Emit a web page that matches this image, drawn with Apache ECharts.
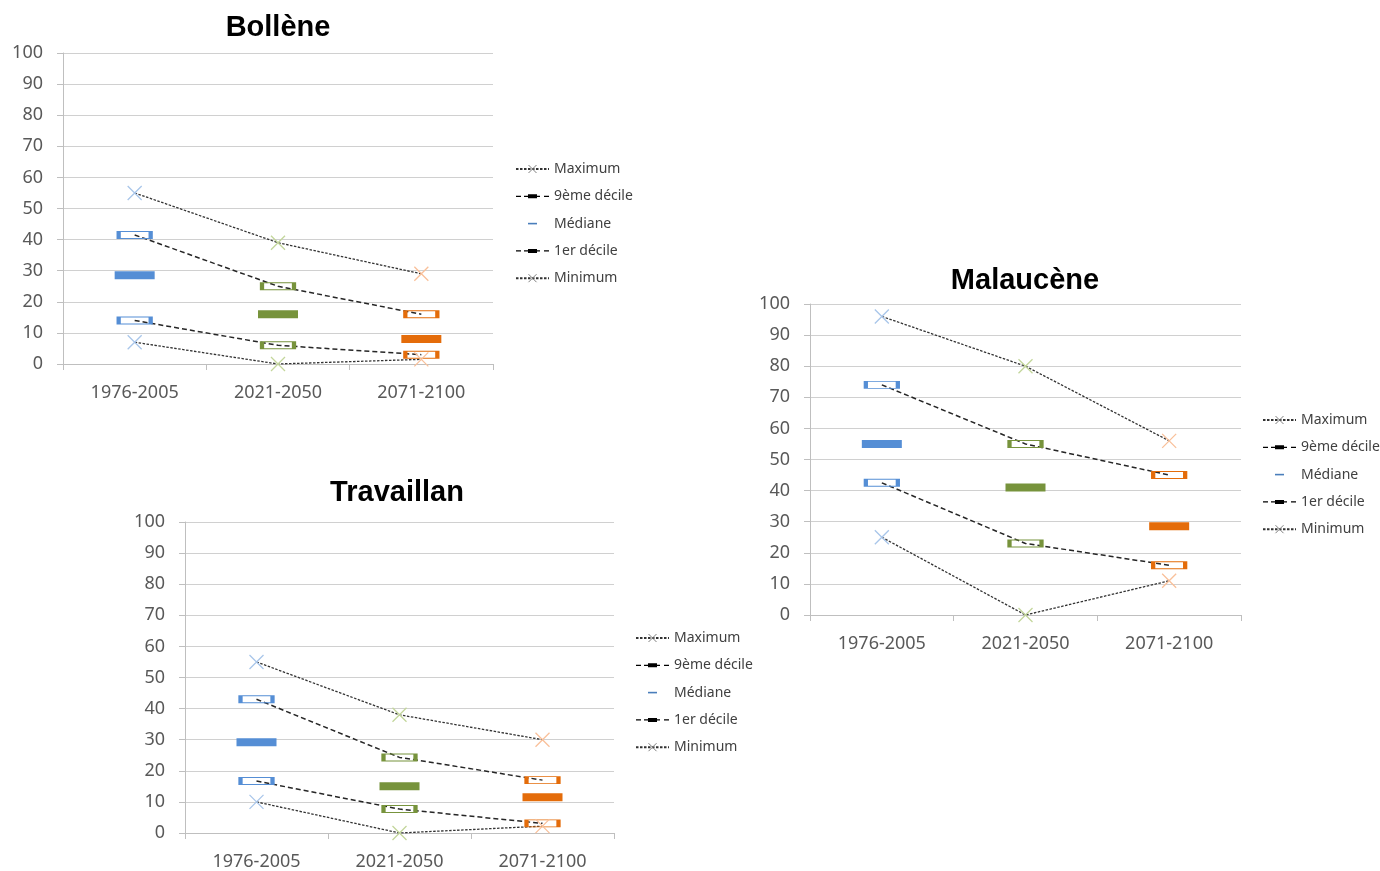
<!DOCTYPE html>
<html>
<head>
<meta charset="utf-8">
<script src="https://cdn.jsdelivr.net/npm/echarts@6/dist/echarts.min.js"></script>
<style>html,body{margin:0;padding:0;background:#fff}#c{width:1380px;height:871px}</style>
</head>
<body>
<div id="c"></div>
<script>
// ---------- data ----------
const categories = ['1976-2005', '2021-2050', '2071-2100'];
const seriesNames = ['Maximum', '9ème décile', 'Médiane', '1er décile', 'Minimum'];
const stations = ['Bollène', 'Malaucène', 'Travaillan'];

const bolleneMax = [55, 39, 29];
const bollene9 = [41.5, 25, 16];
const bolleneMed = [28.5, 16, 8];
const bollene1 = [14, 6, 3];
const bolleneMin = [7, 0, 1.5];

const malauceneMax = [96, 80, 56];
const malaucene9 = [74, 55, 45];
const malauceneMed = [55, 41, 28.5];
const malaucene1 = [42.5, 23, 16];
const malauceneMin = [25, 0, 11];

const travaillanMax = [55, 38, 30];
const travaillan9 = [43, 24.3, 17];
const travaillanMed = [29.2, 15, 11.5];
const travaillan1 = [16.7, 7.7, 3.1];
const travaillanMin = [10, 0, 2.2];

const yMin = 0, yMax = 100, yInterval = 10;

// ---------- styles ----------
const catColors = ['#558ed5', '#77933c', '#e46c0a'];
const catLight = ['#a9c6ea', '#c3d69b', '#f9c09a'];
const grids = [
  {left: 63, top: 53, width: 430, height: 311},
  {left: 810, top: 304, width: 431, height: 311},
  {left: 185, top: 522, width: 429, height: 311}
];
const titlesPos = [{x: 278, y: 13}, {x: 1025, y: 266}, {x: 397, y: 478}];
const legendPos = [{x: 515, y: 161}, {x: 1262, y: 412}, {x: 635, y: 630}];
const stationData = [
  [bolleneMax, bollene9, bolleneMed, bollene1, bolleneMin],
  [malauceneMax, malaucene9, malauceneMed, malaucene1, malauceneMin],
  [travaillanMax, travaillan9, travaillanMed, travaillan1, travaillanMin]
];

const CROSS = 'path://M0,0L10,10M10,0L0,10';
const AX_FONT = 'Noto Sans';

function crossData(vals) {
  return vals.map((v, i) => ({value: v, itemStyle: {color: 'rgba(0,0,0,0)', borderColor: catLight[i], borderWidth: 1.3}}));
}
function boxData(vals) {
  return vals.map((v, i) => ({value: v, itemStyle: {color: 'rgba(0,0,0,0)', borderColor: catColors[i], borderWidth: 2}}));
}
function medData(vals) {
  return vals.map((v, i) => ({value: v, itemStyle: {color: catColors[i], borderWidth: 0}}));
}

const option = {
  animation: false,
  backgroundColor: '#ffffff',
  title: [],
  grid: grids,
  xAxis: [],
  yAxis: [],
  legend: [],
  series: []
};

stations.forEach((st, g) => {
  option.title.push({
    text: st, left: titlesPos[g].x, top: titlesPos[g].y, textAlign: 'center', padding: 0,
    textStyle: {fontFamily: 'Liberation Sans', fontWeight: 'bold', fontSize: 29, color: '#000'}
  });
  option.xAxis.push({
    type: 'category', gridIndex: g, data: categories, boundaryGap: true,
    axisLine: {show: true, lineStyle: {color: '#bfbfbf', width: 1}},
    axisTick: {show: true, length: 6, lineStyle: {color: '#bfbfbf'}},
    axisLabel: {fontFamily: AX_FONT, fontSize: 18, color: '#595959', margin: 20},
    splitLine: {show: false}
  });
  option.yAxis.push({
    type: 'value', gridIndex: g, min: yMin, max: yMax, interval: yInterval,
    axisLine: {show: true, lineStyle: {color: '#bfbfbf', width: 1}},
    axisTick: {show: true, length: 6, lineStyle: {color: '#bfbfbf'}},
    axisLabel: {fontFamily: AX_FONT, fontSize: 18, color: '#595959', margin: 20},
    splitLine: {show: true, lineStyle: {color: '#d0d0d0', width: 1}}
  });
  const d = stationData[g];
  const dotted = {color: '#333333', width: 1.3, type: [2.5, 1.5]};
  const dashed = {color: '#262626', width: 1.5, type: [5, 3]};
  option.series.push(
    {name: seriesNames[0], type: 'line', xAxisIndex: g, yAxisIndex: g, data: crossData(d[0]),
     symbol: CROSS, symbolSize: 14, showAllSymbol: true, lineStyle: dotted,
     itemStyle: {color: 'rgba(0,0,0,0)', borderColor: '#808080', borderWidth: 1}, z: 3},
    {name: seriesNames[1], type: 'line', xAxisIndex: g, yAxisIndex: g, data: boxData(d[1]),
     symbol: 'rect', symbolSize: [32, 7], showAllSymbol: true, lineStyle: dashed,
     itemStyle: {color: 'rgba(0,0,0,0)', borderColor: '#000', borderWidth: 2}, z: 3},
    {name: seriesNames[2], type: 'line', xAxisIndex: g, yAxisIndex: g, data: medData(d[2]),
     symbol: 'rect', symbolSize: [40, 8], showAllSymbol: true, lineStyle: {width: 0, opacity: 0},
     itemStyle: {color: catColors[0]}, z: 3},
    {name: seriesNames[3], type: 'line', xAxisIndex: g, yAxisIndex: g, data: boxData(d[3]),
     symbol: 'rect', symbolSize: [32, 7], showAllSymbol: true, lineStyle: dashed,
     itemStyle: {color: 'rgba(0,0,0,0)', borderColor: '#000', borderWidth: 2}, z: 3},
    {name: seriesNames[4], type: 'line', xAxisIndex: g, yAxisIndex: g, data: crossData(d[4]),
     symbol: CROSS, symbolSize: 14, showAllSymbol: true, lineStyle: dotted,
     itemStyle: {color: 'rgba(0,0,0,0)', borderColor: '#808080', borderWidth: 1}, z: 3}
  );
  const decIcon = 'path://M0,4.4h5v1.2h-5zM8,4.4h4v1.2h-4zM12,3h9v4h-9zM21,4.4h3v1.2h-3zM28,4.4h5v1.2h-5z';
  const medIcon = 'path://M0,0M33,10M12,4.2h9v1.6h-9z';
  option.legend.push({
    orient: 'vertical', left: legendPos[g].x, top: legendPos[g].y, padding: 0,
    itemWidth: 33, itemHeight: 10, itemGap: 11.3, selectedMode: false,
    textStyle: {fontFamily: AX_FONT, fontSize: 14, color: '#404040', lineHeight: 16, padding: [0, 0, 0, 0]},
    data: [
      {name: seriesNames[0], itemStyle: {color: 'rgba(0,0,0,0)', borderColor: '#808080', borderWidth: 1}},
      {name: seriesNames[1], icon: decIcon, itemStyle: {color: '#000', borderWidth: 0}},
      {name: seriesNames[2], icon: medIcon, itemStyle: {color: '#4a7ebb', borderWidth: 0}},
      {name: seriesNames[3], icon: decIcon, itemStyle: {color: '#000', borderWidth: 0}},
      {name: seriesNames[4], itemStyle: {color: 'rgba(0,0,0,0)', borderColor: '#808080', borderWidth: 1}}
    ]
  });
});

const chart = echarts.init(document.getElementById('c'), null, {renderer: 'canvas'});
chart.setOption(option);
</script>
</body>
</html>
